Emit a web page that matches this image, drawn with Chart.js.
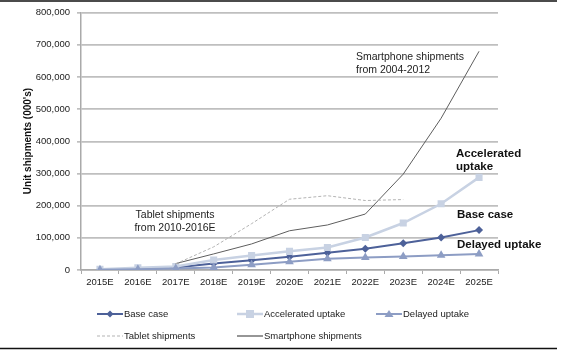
<!DOCTYPE html>
<html>
<head>
<meta charset="utf-8">
<script src="https://cdn.jsdelivr.net/npm/chart.js@4/dist/chart.umd.min.js"></script>
<style>
  html, body { margin: 0; padding: 0; background: #fff; }
  #wrap { width: 561px; height: 352px; position: relative; }
</style>
</head>
<body>
<div id="wrap"><canvas id="c" width="561" height="352"></canvas></div>
<script>
const years = ["2015E", "2016E", "2017E", "2018E", "2019E", "2020E", "2021E", "2022E", "2023E", "2024E", "2025E"];
const baseCase = [1000, 3000, 8000, 20000, 30000, 41000, 54000, 66000, 83000, 101000, 124000];
const accelerated = [2000, 7000, 11000, 31000, 45000, 58000, 70000, 101000, 146000, 206000, 288000];
const delayed = [500, 2000, 5000, 8000, 16000, 26000, 35000, 39000, 42000, 46000, 50000];
const tablet = [null, null, 19000, 72000, 144000, 220000, 231000, 216000, 219000, null, null];
const smartphone = [null, null, 20000, 50000, 81000, 122000, 140000, 174000, 298000, 472000, 680000];
const yTicks = [0, 100000, 200000, 300000, 400000, 500000, 600000, 700000, 800000];

const FONT = "'Liberation Sans', Arial, sans-serif";
const C = {
  base: "#4d6199",
  accel: "#c8d2e3",
  delayed: "#8d9dc4",
  tablet: "#b3b3b3",
  phone: "#5e5e5e",
  grid: "#bfbfbf",
  text: "#222",
};

const legendItems = [
  { label: "Base case", color: C.base, width: 2, marker: "diamond", col: 0, row: 0 },
  { label: "Accelerated uptake", color: C.accel, width: 2.5, marker: "square", col: 1, row: 0 },
  { label: "Delayed uptake", color: C.delayed, width: 2, marker: "triangle", col: 2, row: 0 },
  { label: "Tablet shipments", color: C.tablet, width: 1, dash: [3, 2], col: 0, row: 1 },
  { label: "Smartphone shipments", color: C.phone, width: 1.3, col: 1, row: 1 },
];

function drawMarker(ctx, kind, x, y, color) {
  ctx.fillStyle = color;
  ctx.beginPath();
  if (kind === "diamond") {
    ctx.moveTo(x, y - 3.5); ctx.lineTo(x + 3.5, y); ctx.lineTo(x, y + 3.5); ctx.lineTo(x - 3.5, y);
  } else if (kind === "square") {
    ctx.rect(x - 4, y - 4, 8, 8);
  } else if (kind === "triangle") {
    ctx.moveTo(x, y - 4); ctx.lineTo(x + 4.5, y + 3); ctx.lineTo(x - 4.5, y + 3);
  }
  ctx.closePath();
  ctx.fill();
}

const extras = {
  id: "extras",
  afterDraw(chart) {
    const ctx = chart.ctx;
    ctx.save();
    // frame lines
    ctx.strokeStyle = "#111";
    ctx.lineWidth = 1.5;
    ctx.beginPath();
    ctx.moveTo(0, 1); ctx.lineTo(557, 1);
    ctx.moveTo(0, 348.5); ctx.lineTo(557, 348.5);
    ctx.stroke();

    // y axis title
    ctx.fillStyle = "#111";
    ctx.font = "bold 10px " + FONT;
    ctx.textAlign = "center";
    ctx.textBaseline = "middle";
    ctx.save();
    ctx.translate(28, 141);
    ctx.rotate(-Math.PI / 2);
    ctx.fillText("Unit shipments (000's)", 0, 0);
    ctx.restore();

    // annotations
    ctx.fillStyle = C.text;
    ctx.font = "10.5px " + FONT;
    ctx.textAlign = "left";
    ctx.fillText("Smartphone shipments", 356, 57);
    ctx.fillText("from 2004-2012", 356, 70);
    ctx.textAlign = "center";
    ctx.fillText("Tablet shipments", 175, 215);
    ctx.fillText("from 2010-2016E", 175, 228);

    ctx.fillStyle = "#111";
    ctx.font = "bold 11.5px " + FONT;
    ctx.textAlign = "left";
    ctx.fillText("Accelerated", 456, 154);
    ctx.fillText("uptake", 456, 167);
    ctx.fillText("Base case", 457, 215);
    ctx.fillText("Delayed uptake", 457, 245);

    // legend
    const colX = [97, 237, 376];
    const rowY = [314, 336];
    ctx.font = "9.5px " + FONT;
    legendItems.forEach(it => {
      const x = colX[it.col], y = rowY[it.row];
      ctx.strokeStyle = it.color;
      ctx.lineWidth = it.width;
      ctx.setLineDash(it.dash || []);
      ctx.beginPath();
      ctx.moveTo(x, y); ctx.lineTo(x + 26, y);
      ctx.stroke();
      ctx.setLineDash([]);
      if (it.marker) drawMarker(ctx, it.marker, x + 13, y, it.color);
      ctx.fillStyle = C.text;
      ctx.textAlign = "left";
      ctx.fillText(it.label, x + 27, y + 0.5);
    });
    ctx.restore();
  }
};

new Chart(document.getElementById("c"), {
  type: "line",
  data: {
    labels: years,
    datasets: [
      { label: "Tablet shipments", data: tablet, borderColor: C.tablet, borderWidth: 1, borderDash: [3, 2], pointRadius: 0, spanGaps: false },
      { label: "Smartphone shipments", data: smartphone, borderColor: C.phone, borderWidth: 1, pointRadius: 0, spanGaps: false },
      { label: "Delayed uptake", data: delayed, borderColor: C.delayed, backgroundColor: C.delayed, borderWidth: 2, pointStyle: "triangle", pointRadius: 5, pointBorderWidth: 0 },
      { label: "Accelerated uptake", data: accelerated, borderColor: C.accel, backgroundColor: C.accel, borderWidth: 2.5, pointStyle: "rect", pointRadius: 5, pointBorderWidth: 0 },
      { label: "Base case", data: baseCase, borderColor: C.base, backgroundColor: C.base, borderWidth: 2, pointStyle: "rectRot", pointRadius: 4, pointBorderWidth: 0 },
    ],
  },
  options: {
    responsive: false,
    animation: false,
    layout: { padding: { top: 12, right: 63, bottom: 0, left: 0 } },
    plugins: { legend: { display: false }, tooltip: { enabled: false } },
    scales: {
      x: {
        offset: true,
        afterFit: s => { s.height = 82; },
        grid: { drawOnChartArea: false, drawTicks: true, tickLength: 4, color: "#aaa", offset: true },
        border: { color: "#aaa", width: 1.5 },
        ticks: { color: C.text, font: { family: FONT, size: 9.5 }, padding: 3, maxRotation: 0 },
      },
      y: {
        min: 0,
        max: 800000,
        afterFit: s => { s.width = 81; },
        afterBuildTicks: s => { s.ticks = yTicks.map(v => ({ value: v })); },
        grid: { color: C.grid, lineWidth: 1.7, tickLength: 4 },
        border: { color: "#aaa", width: 1.5 },
        ticks: {
          color: C.text,
          font: { family: FONT, size: 9.5 },
          padding: 7,
          callback: v => v.toLocaleString("en-US"),
        },
      },
    },
  },
  plugins: [extras],
});
</script>
</body>
</html>
